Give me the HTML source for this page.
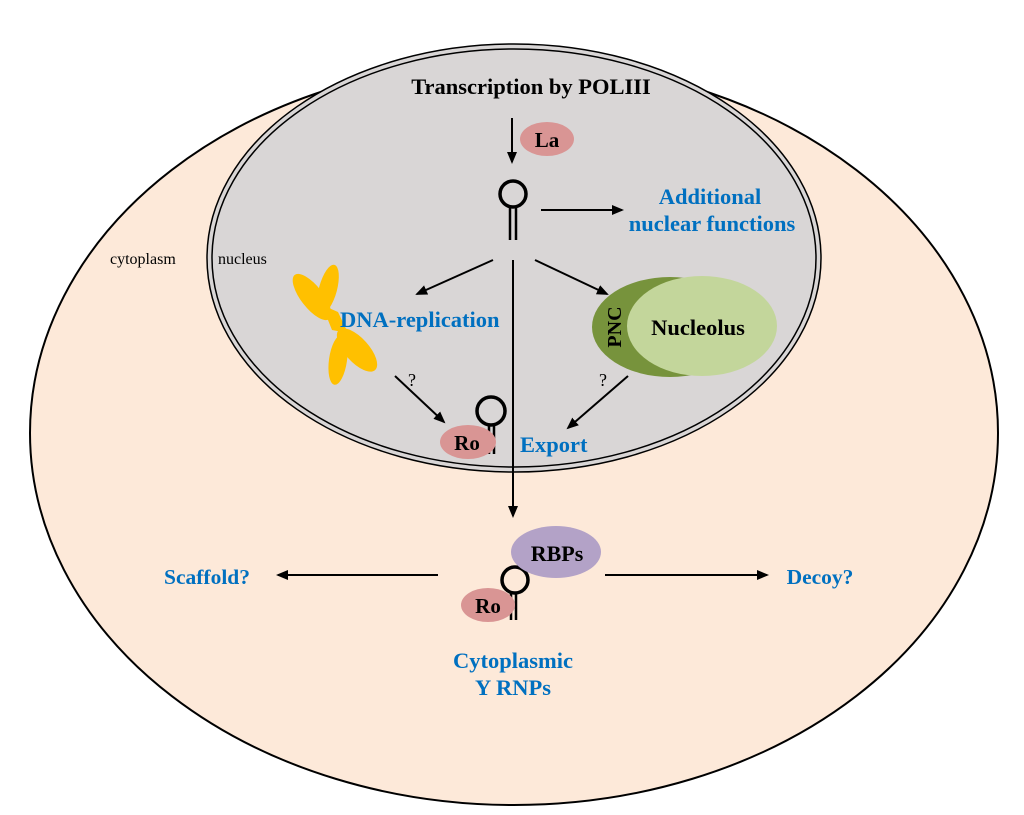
<!DOCTYPE html>
<html><head><style>body{margin:0;background:#fff}svg{display:block}</style></head><body>
<svg width="1024" height="815" viewBox="0 0 1024 815" xmlns="http://www.w3.org/2000/svg" font-family="Liberation Serif, serif">
<defs>
<marker id="a" markerWidth="12" markerHeight="12" refX="10" refY="6" orient="auto" markerUnits="userSpaceOnUse"><path d="M0,1 L12,6 L0,11 Z" fill="#000"/></marker>
</defs>
<ellipse cx="514" cy="433" rx="484" ry="372" fill="#fde9d9" stroke="#000" stroke-width="2"/>
<ellipse cx="514" cy="258" rx="307" ry="214" fill="#d9d6d6" stroke="#000" stroke-width="1.5"/>
<ellipse cx="514" cy="258" rx="302" ry="209" fill="none" stroke="#000" stroke-width="1.5"/>
<text x="531" y="94" font-size="22.5" font-weight="bold" text-anchor="middle">Transcription by POLIII</text>
<text x="110" y="264" font-size="16">cytoplasm</text>
<text x="218" y="264" font-size="16">nucleus</text>
<line x1="512" y1="118" x2="512" y2="162" stroke="#000" stroke-width="2" marker-end="url(#a)"/>
<ellipse cx="547" cy="139" rx="27" ry="17" fill="#d99594"/>
<text x="547" y="147" font-size="21" font-weight="bold" text-anchor="middle">La</text>
<circle cx="513" cy="194" r="13" fill="none" stroke="#000" stroke-width="3.5"/>
<line x1="510" y1="206" x2="510" y2="240" stroke="#000" stroke-width="2.5"/>
<line x1="516" y1="206" x2="516" y2="240" stroke="#000" stroke-width="2.5"/>
<line x1="541" y1="210" x2="622" y2="210" stroke="#000" stroke-width="2" marker-end="url(#a)"/>
<text x="710" y="204" font-size="22.5" font-weight="bold" fill="#0070c0" text-anchor="middle">Additional</text>
<text x="712" y="231" font-size="22.5" font-weight="bold" fill="#0070c0" text-anchor="middle">nuclear functions</text>
<line x1="493" y1="260" x2="417" y2="294" stroke="#000" stroke-width="2" marker-end="url(#a)"/>
<line x1="535" y1="260" x2="607" y2="294" stroke="#000" stroke-width="2" marker-end="url(#a)"/>
<line x1="513" y1="260" x2="513" y2="516" stroke="#000" stroke-width="2" marker-end="url(#a)"/>
<g fill="#ffc000">
<ellipse cx="312" cy="297" rx="11" ry="28" transform="rotate(-38 312 297)"/>
<ellipse cx="328" cy="289" rx="9" ry="25" transform="rotate(15 328 289)"/>
<ellipse cx="357" cy="350" rx="12" ry="27" transform="rotate(-42 357 350)"/>
<ellipse cx="338" cy="360" rx="9" ry="25" transform="rotate(8 338 360)"/>
<path d="M322,305 L338,312 L348,333 L332,330 Z"/>
</g>
<text x="340" y="327" font-size="22.5" font-weight="bold" fill="#0070c0">DNA-replication</text>
<ellipse cx="670" cy="327" rx="78" ry="50" fill="#77933c"/>
<ellipse cx="702" cy="326" rx="75" ry="50" fill="#c3d69b"/>
<text x="698" y="335" font-size="22.5" font-weight="bold" text-anchor="middle">Nucleolus</text>
<text x="614" y="327" font-size="20" font-weight="bold" text-anchor="middle" transform="rotate(-90 614 327)" dy="7">PNC</text>
<text x="412" y="386" font-size="18" text-anchor="middle">?</text>
<text x="603" y="386" font-size="18" text-anchor="middle">?</text>
<line x1="395" y1="376" x2="444" y2="422" stroke="#000" stroke-width="2" marker-end="url(#a)"/>
<line x1="628" y1="376" x2="568" y2="428" stroke="#000" stroke-width="2" marker-end="url(#a)"/>
<circle cx="491" cy="411" r="14" fill="none" stroke="#000" stroke-width="3.5"/>
<line x1="489" y1="424" x2="489" y2="454" stroke="#000" stroke-width="2.5"/>
<line x1="494" y1="424" x2="494" y2="454" stroke="#000" stroke-width="2.5"/>
<ellipse cx="468" cy="442" rx="28" ry="17" fill="#d99594"/>
<text x="467" y="450" font-size="21" font-weight="bold" text-anchor="middle">Ro</text>
<text x="520" y="452" font-size="22.5" font-weight="bold" fill="#0070c0">Export</text>
<circle cx="515" cy="580" r="13" fill="none" stroke="#000" stroke-width="3.5"/>
<line x1="511" y1="592" x2="511" y2="620" stroke="#000" stroke-width="2.5"/>
<line x1="516" y1="592" x2="516" y2="620" stroke="#000" stroke-width="2.5"/>
<ellipse cx="556" cy="552" rx="45" ry="26" fill="#b3a2c7"/>
<text x="557" y="561" font-size="22" font-weight="bold" text-anchor="middle">RBPs</text>
<ellipse cx="488" cy="605" rx="27" ry="17" fill="#d99594"/>
<text x="488" y="613" font-size="21" font-weight="bold" text-anchor="middle">Ro</text>
<line x1="438" y1="575" x2="278" y2="575" stroke="#000" stroke-width="2" marker-end="url(#a)"/>
<line x1="605" y1="575" x2="767" y2="575" stroke="#000" stroke-width="2" marker-end="url(#a)"/>
<text x="207" y="584" font-size="21.5" font-weight="bold" fill="#0070c0" text-anchor="middle">Scaffold?</text>
<text x="820" y="584" font-size="21.5" font-weight="bold" fill="#0070c0" text-anchor="middle">Decoy?</text>
<text x="513" y="668" font-size="22.5" font-weight="bold" fill="#0070c0" text-anchor="middle">Cytoplasmic</text>
<text x="513" y="695" font-size="22.5" font-weight="bold" fill="#0070c0" text-anchor="middle">Y RNPs</text>
</svg>
</body></html>
